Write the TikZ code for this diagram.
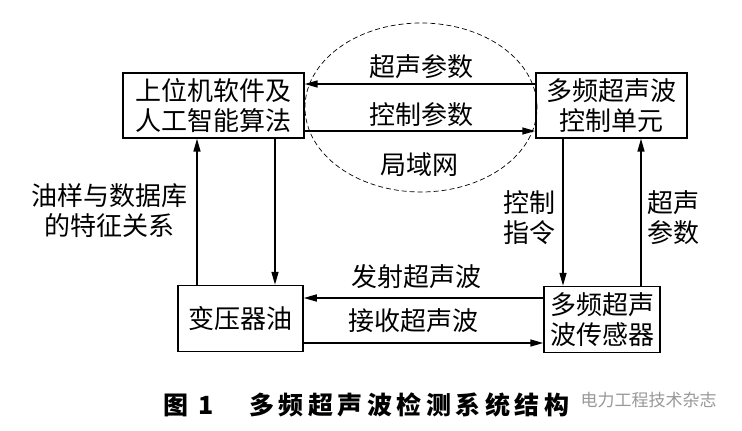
\documentclass[tikz,border=0pt]{standalone}
\usepackage{fontspec}
\usetikzlibrary{arrows.meta,shapes.geometric}
\newfontfamily\cjk{Noto Sans CJK SC}
\newfontfamily\capfont[LetterSpace=18]{Noto Sans CJK SC}
\begin{document}
\begin{tikzpicture}[x=1pt,y=-1pt,
  box/.style={draw, line width=1.5pt, inner sep=0pt, align=center, font=\cjk\fontsize{26}{30}\selectfont},
  lbl/.style={inner sep=0pt, align=center, font=\cjk\fontsize{26}{30}\selectfont},
  arr/.style={line width=1.5pt, -{Triangle[length=13pt,width=7pt]}},
  lanring/.style={draw, ellipse, line width=0.7pt, dash pattern=on 5pt off 3pt, inner sep=0pt},
  capstyle/.style={anchor=west, inner sep=0pt, font=\capfont\bfseries\fontsize{25}{30}\selectfont},
  wmstyle/.style={inner sep=0pt, text=black!40, font=\cjk\fontsize{17}{20}\selectfont}]
\useasboundingbox (0,0) rectangle (742,431);
\fill[white] (0,0) rectangle (742,431);

\node[lanring, minimum width=232pt, minimum height=169pt] (lan) at (421,107.5) {};

\node[box, minimum width=181pt, minimum height=65pt] (b1) at (213.4,105.4) {上位机软件及\\人工智能算法};
\node[box, minimum width=151pt, minimum height=65pt] (b2) at (611.5,105.4) {多频超声波\\控制单元};
\node[box, minimum width=125pt, minimum height=66pt] (b3) at (240.5,318.5) {变压器油};
\node[box, minimum width=116pt, minimum height=66pt] (b4) at (602,319.5) {多频超声\\波传感器};

\node[lbl] (l1) at (421,67) {超声参数};
\node[lbl] (l2) at (421,115) {控制参数};
\node[lbl] (l3) at (419,165) {局域网};
\node[lbl] (l4) at (109,211) {油样与数据库\\的特征关系};
\node[lbl] (l5) at (529,218) {控制\\指令};
\node[lbl] (l6) at (673,218) {超声\\参数};
\node[lbl] (l7) at (416,277) {发射超声波};
\node[lbl] (l8) at (413,321) {接收超声波};

\draw[arr] ([yshift=21.4pt]b2.west) -- ([yshift=21.4pt]b2.west -| b1.east);
\draw[arr] ([yshift=-25.6pt]b1.east) -- ([yshift=-25.6pt]b1.east -| b2.west);
\draw[arr] ([xshift=-43.5pt]b3.north) -- ([xshift=-43.5pt]b3.north |- b1.south);
\draw[arr] ([xshift=61.6pt]b1.south) -- ([xshift=61.6pt]b1.south |- b3.north);
\draw[arr] ([xshift=-48.5pt]b2.south) -- ([xshift=-48.5pt]b2.south |- b4.north);
\draw[arr] ([xshift=39pt]b4.north) -- ([xshift=39pt]b4.north |- b2.south);
\draw[arr] ([yshift=21.5pt]b4.west) -- ([yshift=21.5pt]b4.west -| b3.east);
\draw[arr] ([yshift=-24.5pt]b3.east) -- ([yshift=-24.5pt]b3.east -| b4.west);

\node[capstyle] (c1) at (163,405) {图 1};
\node[capstyle] (c2) at (249,405) {多频超声波检测系统结构};
\node[wmstyle] (wm) at (648.5,400) {电力工程技术杂志};
\end{tikzpicture}
\end{document}
